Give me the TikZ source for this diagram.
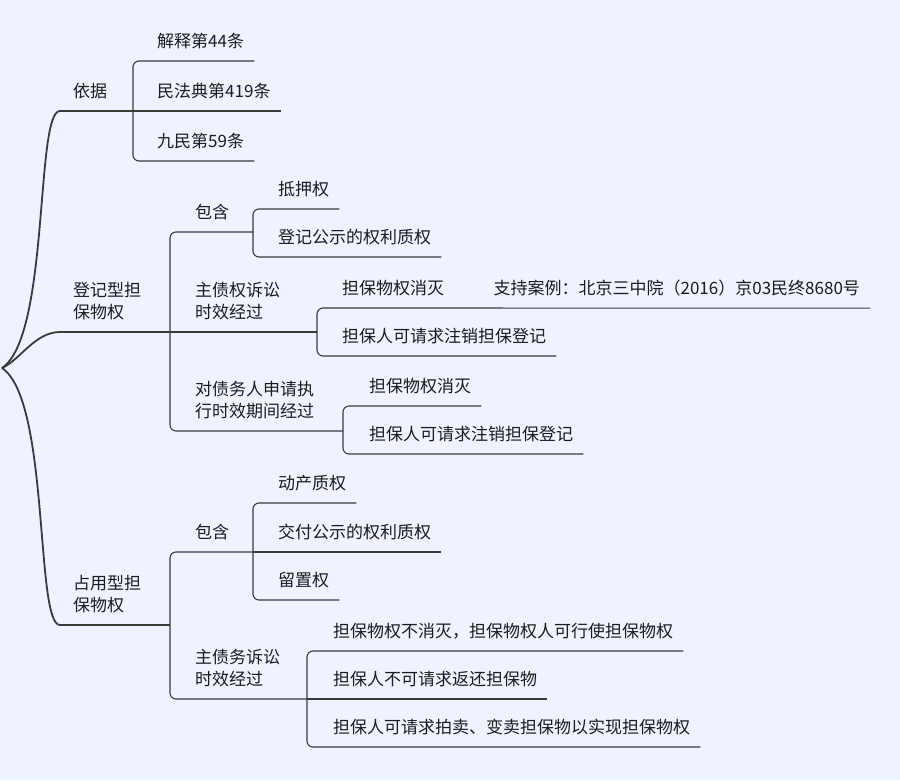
\documentclass[tikz,border=0pt]{standalone}
\usepackage{fontspec}
\setmainfont{Noto Sans CJK SC}
\usetikzlibrary{positioning}
\definecolor{bgblue}{RGB}{238,243,255}
\definecolor{linegray}{RGB}{58,58,58}
\definecolor{textgray}{RGB}{28,28,28}

\begin{document}
\begin{tikzpicture}[x=1pt,y=-1pt,
  topic/.style={anchor=south west, inner xsep=10pt, inner ysep=13pt, text depth=0pt,
    align=left, text=textgray, font=\fontsize{17}{22}\selectfont},
  maintopic/.style={topic, inner xsep=13pt},
  mainline/.style={draw=linegray, line width=1.8pt},
  subline/.style={draw=linegray, line width=1.1pt, rounded corners=6pt}]

\path[use as bounding box, fill=bgblue] (0,0) rectangle (900,780);
\coordinate (root) at (2,368);

% main topics
\node[maintopic] (yiju) at (60,111) {依据};
\node[maintopic] (dengji) at (60,332) {登记型担\\保物权};
\node[maintopic] (zhanyong) at (60,625) {占用型担\\保物权};

\draw[mainline] (root) .. controls (50,336) and (35,111) .. (yiju.south west) -- (yiju.south east);
\draw[mainline] (root) .. controls (20,360) and (35,332) .. (dengji.south west) -- (dengji.south east);
\draw[mainline] (root) .. controls (50,400) and (35,625) .. (zhanyong.south west) -- (zhanyong.south east);

% 依据
\node[topic] (yj1) at (147,61) {解释第44条};
\node[topic] (yj2) at (147,111) {民法典第419条};
\node[topic] (yj3) at (147,161) {九民第59条};
\coordinate (byj) at (133,111);
\draw[subline] (yj1.south east) -- (byj |- yj1.south) -- (byj |- yj3.south) -- (yj3.south east);
\draw[subline] (yiju.south east) -- (yj2.south east);

% 登记型担保物权
\node[topic] (dbh) at (185,232) {包含};
\node[topic] (dzz) at (185,332) {主债权诉讼\\时效经过};
\node[topic] (dzx) at (185,431) {对债务人申请执\\行时效期间经过};
\coordinate (bdj) at (170,332);
\coordinate (bdbh) at (253,232);
\coordinate (bdzz) at (317,332);
\coordinate (bdzx) at (343,431);
\draw[subline] (bdbh) -- (bdj |- bdbh) -- (bdj |- bdzx) -- (bdzx);
\draw[subline] (dengji.south east) -- (bdzz);

\node[topic] (dbh1) at (268,209) {抵押权};
\node[topic] (dbh2) at (268,257) {登记公示的权利质权};
\draw[subline] (dbh1.south east) -- (bdbh |- dbh1.south) -- (bdbh |- dbh2.south) -- (dbh2.south east);

\node[topic] (dzz1) at (332,308) {担保物权消灭};
\node[topic, right=29pt of dzz1] (anli) {支持案例：北京三中院（2016）京03民终8680号};
\node[topic] (dzz2) at (332,356) {担保人可请求注销担保登记};
\draw[subline] (anli.south east) -- (bdzz |- dzz1.south) -- (bdzz |- dzz2.south) -- (dzz2.south east);

\node[topic] (dzx1) at (359,406) {担保物权消灭};
\node[topic] (dzx2) at (359,454) {担保人可请求注销担保登记};
\draw[subline] (dzx1.south east) -- (bdzx |- dzx1.south) -- (bdzx |- dzx2.south) -- (dzx2.south east);

% 占用型担保物权
\node[topic] (zbh) at (185,552) {包含};
\node[topic] (zzz) at (185,699) {主债务诉讼\\时效经过};
\coordinate (bzy) at (170,625);
\coordinate (bzbh) at (253,552);
\coordinate (bzzz) at (307,699);
\draw[subline] (bzbh) -- (bzy |- bzbh) -- (bzy |- bzzz) -- (bzzz);
\draw[subline] (zhanyong.south east) -- (bzy);

\node[topic] (zbh1) at (268,503) {动产质权};
\node[topic] (zbh2) at (268,552) {交付公示的权利质权};
\node[topic] (zbh3) at (268,600) {留置权};
\draw[subline] (zbh1.south east) -- (bzbh |- zbh1.south) -- (bzbh |- zbh3.south) -- (zbh3.south east);
\draw[subline] (bzbh) -- (zbh2.south east);

\node[topic] (zzz1) at (323,651) {担保物权不消灭，担保物权人可行使担保物权};
\node[topic] (zzz2) at (323,699) {担保人不可请求返还担保物};
\node[topic] (zzz3) at (323,747) {担保人可请求拍卖、变卖担保物以实现担保物权};
\draw[subline] (zzz1.south east) -- (bzzz |- zzz1.south) -- (bzzz |- zzz3.south) -- (zzz3.south east);
\draw[subline] (bzzz) -- (zzz2.south east);

\end{tikzpicture}
\end{document}
